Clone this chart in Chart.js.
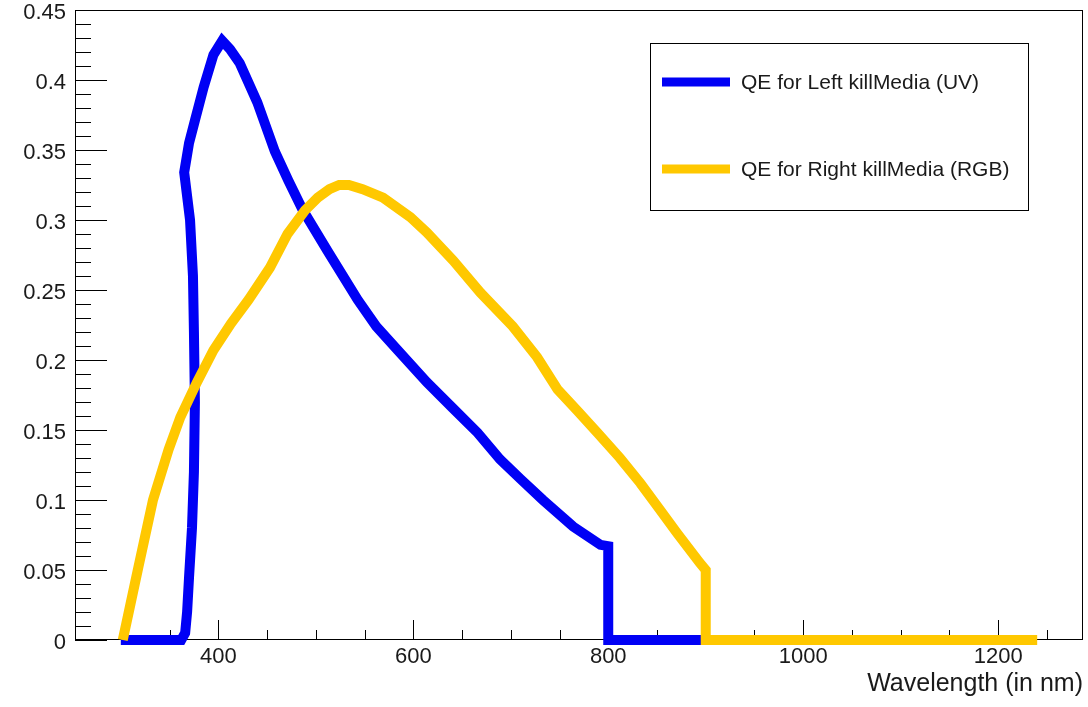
<!DOCTYPE html>
<html>
<head>
<meta charset="utf-8">
<title>QE killMedia</title>
<script src="https://cdn.jsdelivr.net/npm/chart.js@4.4.1/dist/chart.umd.min.js"></script>
<style>
  html, body { margin: 0; padding: 0; background: #fff; }
  #wrap { width: 1088px; height: 707px; }
</style>
</head>
<body>
<div id="wrap"><canvas id="qeChart" width="1088" height="707"></canvas></div>
<script>
// wavelength (nm) / quantum efficiency
const uvWavelength = [300, 362, 366, 368, 370, 373, 375, 376, 375, 374, 371, 365, 370, 376, 385, 395, 404, 412, 422, 440, 458, 472, 486, 512, 543, 562, 584, 614, 640, 666, 689, 710, 733, 764, 792, 800, 800, 900];
const uvQE         = [0, 0, 0.005, 0.02, 0.045, 0.08, 0.12, 0.17, 0.22, 0.26, 0.30, 0.334, 0.355, 0.371, 0.395, 0.418, 0.428, 0.422, 0.412, 0.384, 0.349, 0.328, 0.308, 0.278, 0.243, 0.224, 0.207, 0.184, 0.166, 0.148, 0.129, 0.115, 0.1, 0.081, 0.068, 0.067, 0, 0];

const rgbWavelength = [302, 310, 318, 333, 349, 361, 378, 395, 413, 431, 453, 471, 489, 502, 514, 524, 534, 548, 569, 597, 614, 641, 669, 702, 727, 748, 768, 789, 812, 833, 852, 871, 894, 900, 900, 1240];
const rgbQE         = [0, 0.026, 0.052, 0.1, 0.136, 0.159, 0.184, 0.207, 0.226, 0.243, 0.266, 0.29, 0.307, 0.316, 0.322, 0.325, 0.325, 0.322, 0.316, 0.302, 0.291, 0.271, 0.248, 0.224, 0.202, 0.179, 0.164, 0.148, 0.13, 0.112, 0.094, 0.076, 0.055, 0.05, 0, 0];

const seriesLabels = ['QE for Left killMedia (UV)', 'QE for Right killMedia (RGB)'];
const xTickValues = [400, 600, 800, 1000, 1200];
const yTickValues = [0, 0.05, 0.1, 0.15, 0.2, 0.25, 0.3, 0.35, 0.4, 0.45];
const xTitle = 'Wavelength (in nm)';

const FONT = "'Liberation Sans', Arial, Helvetica, sans-serif";
const BLUE = '#0000f5';
const GOLD = '#ffc800';

function toPoints(xs, ys) {
  return xs.map((x, i) => ({ x: x, y: ys[i] }));
}

// ROOT-like frame with inward ticks, drawn from the scales
const rootFrame = {
  id: 'rootFrame',
  beforeDatasetsDraw(chart) {
    const { ctx, chartArea: a, scales: { x, y } } = chart;
    ctx.save();
    ctx.strokeStyle = '#000';
    ctx.lineWidth = 1;
    ctx.strokeRect(a.left + 0.5, a.top + 0.5, a.right - a.left - 1, a.bottom - a.top - 1);

    ctx.beginPath();
    for (let v = Math.ceil(x.min / 50) * 50; v <= x.max; v += 50) {
      const px = Math.round(x.getPixelForValue(v)) + 0.5;
      const len = v % 200 === 0 ? 20 : 10;
      ctx.moveTo(px, a.bottom);
      ctx.lineTo(px, a.bottom - len);
    }
    for (let i = 0; i <= 45; i++) {
      const py = Math.round(y.getPixelForValue(i / 100)) + 0.5;
      const len = i % 5 === 0 ? 32 : 16;
      ctx.moveTo(a.left, py);
      ctx.lineTo(a.left + len, py);
    }
    ctx.stroke();
    ctx.restore();
  }
};

// boxed legend like the TLegend in the picture
const boxLegend = {
  id: 'boxLegend',
  afterDraw(chart) {
    const ctx = chart.ctx;
    const box = { left: 650, top: 43, right: 1028, bottom: 210 };
    const rows = [82, 169];
    ctx.save();
    ctx.fillStyle = '#fff';
    ctx.fillRect(box.left, box.top, box.right - box.left, box.bottom - box.top);
    ctx.strokeStyle = '#000';
    ctx.lineWidth = 1;
    ctx.strokeRect(box.left + 0.5, box.top + 0.5, box.right - box.left, box.bottom - box.top);
    chart.data.datasets.forEach((ds, i) => {
      ctx.strokeStyle = ds.borderColor;
      ctx.lineWidth = 9;
      ctx.beginPath();
      ctx.moveTo(662, rows[i]);
      ctx.lineTo(730, rows[i]);
      ctx.stroke();
      ctx.fillStyle = '#1a1a1a';
      ctx.font = '21px ' + FONT;
      ctx.textAlign = 'left';
      ctx.textBaseline = 'middle';
      ctx.fillText(ds.label, 741, rows[i] + 1);
    });
    ctx.restore();
  }
};

new Chart(document.getElementById('qeChart'), {
  type: 'scatter',
  data: {
    datasets: [
      {
        label: seriesLabels[0],
        data: toPoints(uvWavelength, uvQE),
        borderColor: BLUE,
        backgroundColor: BLUE,
        showLine: true,
        borderWidth: 10,
        pointRadius: 0,
        tension: 0,
        clip: false,
        order: 1
      },
      {
        label: seriesLabels[1],
        data: toPoints(rgbWavelength, rgbQE),
        borderColor: GOLD,
        backgroundColor: GOLD,
        showLine: true,
        borderWidth: 10,
        pointRadius: 0,
        tension: 0,
        clip: false,
        order: 0
      }
    ]
  },
  options: {
    responsive: false,
    animation: false,
    devicePixelRatio: 1,
    layout: { padding: { top: 10, right: 5, left: 0, bottom: 0 } },
    plugins: {
      legend: { display: false },
      tooltip: { enabled: false }
    },
    scales: {
      x: {
        type: 'linear',
        min: 253,
        max: 1287,
        grid: { display: false, drawTicks: false },
        border: { display: false },
        afterBuildTicks: s => { s.ticks = xTickValues.map(v => ({ value: v })); },
        afterFit: s => { s.height = 67; s.paddingLeft = 0; s.paddingRight = 0; },
        ticks: {
          padding: 4,
          color: '#1a1a1a',
          maxRotation: 0,
          font: { family: FONT, size: 22 },
          callback: v => String(v)
        },
        title: {
          display: true,
          text: xTitle,
          align: 'end',
          color: '#1a1a1a',
          font: { family: FONT, size: 25 },
          padding: { top: 0, bottom: 8 }
        }
      },
      y: {
        type: 'linear',
        min: 0,
        max: 0.45,
        grid: { display: false, drawTicks: false },
        border: { display: false },
        afterBuildTicks: s => { s.ticks = yTickValues.map(v => ({ value: v })); },
        afterFit: s => { s.width = 75; s.paddingTop = 0; s.paddingBottom = 0; },
        ticks: {
          padding: 9,
          labelOffset: 3,
          color: '#1a1a1a',
          font: { family: FONT, size: 22 },
          callback: v => String(+v.toFixed(2))
        }
      }
    }
  },
  plugins: [rootFrame, boxLegend]
});
</script>
</body>
</html>
